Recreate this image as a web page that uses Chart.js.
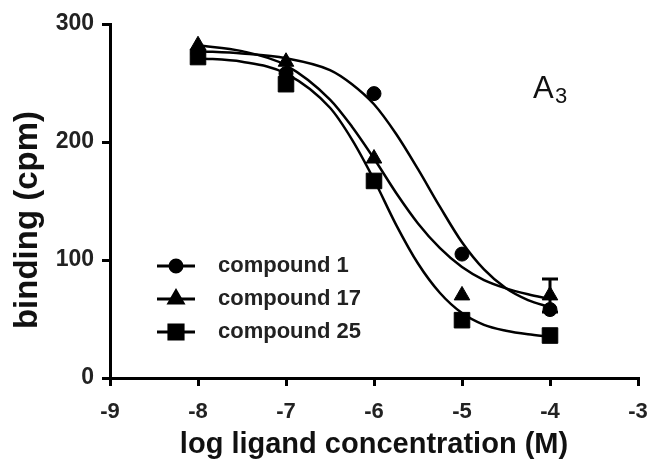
<!DOCTYPE html>
<html>
<head>
<meta charset="utf-8">
<script src="https://cdn.jsdelivr.net/npm/chart.js@4"></script>
<style>
  html, body { margin: 0; padding: 0; background: #fff; }
  #wrap { width: 653px; height: 464px; }
</style>
</head>
<body>
<div id="wrap"><canvas id="bindingChart" width="653" height="464"></canvas></div>
<script>
// measured points (log M vs cpm)
const logConc = [-8, -7, -6, -5, -4];
const compound1 = [275, 258, 241, 105, 58];
const compound17 = [282, 268, 186, 70, 70];
const compound17Err = [0, 0, 0, 0, 14];
const compound25 = [272, 249, 167, 49, 36];

// fitted curves
const fitX = [-8, -7.5, -7, -6.5, -6.25, -6, -5.75, -5.5, -5.25, -5, -4.75, -4.5, -4.25, -4];
const fit1 = [277, 275, 271, 261, 249, 232, 207, 177, 145, 115, 92, 76, 66, 60];
const fit17 = [282, 277, 265, 236, 213, 186, 157, 131, 110, 94, 83, 76, 71, 67];
const fit25 = [271, 268, 258, 229, 202, 168, 130, 97, 72, 55, 45, 40, 37, 35];

const seriesNames = ['compound 1', 'compound 17', 'compound 25'];
const seriesMarkers = ['circle', 'triangle', 'rect'];
const markerRadius = [7, 9, 11];

const xTicks = [-9, -8, -7, -6, -5, -4, -3];
const yTicks = [0, 100, 200, 300];

const FONT = '"Liberation Sans", Arial, sans-serif';

function toPoints(xs, ys) {
    return xs.map((x, i) => ({ x: x, y: ys[i] }));
}

function curve(ys) {
    return {
        data: toPoints(fitX, ys),
        showLine: true,
        borderColor: '#000',
        borderWidth: 2.5,
        pointRadius: 0,
        cubicInterpolationMode: 'monotone',
        fill: false,
        clip: false,
        order: 10
    };
}

function points(ys, idx) {
    return {
        data: toPoints(logConc, ys),
        showLine: false,
        pointStyle: seriesMarkers[idx],
        pointRadius: markerRadius[idx],
        pointHoverRadius: markerRadius[idx],
        backgroundColor: '#000',
        borderColor: '#000',
        borderWidth: 1,
        clip: false,
        order: 3 - idx
    };
}

const errorBarPlugin = {
    id: 'errorBars',
    beforeDatasetsDraw(chart) {
        const ctx = chart.ctx;
        const xs = chart.scales.x;
        const ys = chart.scales.y;
        ctx.save();
        ctx.strokeStyle = '#000';
        ctx.lineWidth = 3;
        compound17Err.forEach((e, i) => {
            if (!e) return;
            const px = xs.getPixelForValue(logConc[i]);
            const top = ys.getPixelForValue(compound17[i] + e);
            const bot = ys.getPixelForValue(compound17[i] - e);
            ctx.beginPath();
            ctx.moveTo(px, top);
            ctx.lineTo(px, bot);
            ctx.moveTo(px - 8, top);
            ctx.lineTo(px + 8, top);
            ctx.moveTo(px - 8, bot);
            ctx.lineTo(px + 8, bot);
            ctx.stroke();
        });
        ctx.restore();
    }
};

const annotationPlugin = {
    id: 'legendAndLabel',
    afterDraw(chart) {
        const ctx = chart.ctx;
        const area = chart.chartArea;
        ctx.save();

        // y axis title, sits a little below the axis middle in the original
        ctx.save();
        ctx.translate(28, (area.top + area.bottom) / 2 + 19);
        ctx.rotate(-Math.PI / 2);
        ctx.fillStyle = '#111';
        ctx.font = 'bold 33px ' + FONT;
        ctx.textAlign = 'center';
        ctx.textBaseline = 'middle';
        ctx.fillText('binding (cpm)', 0, 0);
        ctx.restore();

        // legend
        const lx = area.left + 47;
        const ly = area.top + 242;
        const rowGap = 33;
        seriesNames.forEach((name, i) => {
            const y = ly + i * rowGap;
            ctx.strokeStyle = '#000';
            ctx.lineWidth = 3;
            ctx.beginPath();
            ctx.moveTo(lx, y);
            ctx.lineTo(lx + 38, y);
            ctx.stroke();
            Chart.helpers.drawPoint(ctx, {
                pointStyle: seriesMarkers[i],
                radius: markerRadius[i] - 1,
                borderWidth: 1
            }, lx + 19, y);
            ctx.fillStyle = '#000';
            ctx.fill();
            ctx.fillStyle = '#222';
            ctx.font = 'bold 22px ' + FONT;
            ctx.textAlign = 'left';
            ctx.textBaseline = 'middle';
            ctx.fillText(name, lx + 61, y);
        });

        // receptor label
        ctx.fillStyle = '#111';
        ctx.textAlign = 'left';
        ctx.textBaseline = 'alphabetic';
        ctx.font = '500 31px ' + FONT;
        ctx.fillText('A', area.right - 105, area.top + 74);
        ctx.font = '22px ' + FONT;
        ctx.fillText('3', area.right - 83, area.top + 79);
        ctx.restore();
    }
};

const chart = new Chart(document.getElementById('bindingChart').getContext('2d'), {
    type: 'scatter',
    data: {
        datasets: [
            curve(fit1),
            curve(fit17),
            curve(fit25),
            points(compound1, 0),
            points(compound17, 1),
            points(compound25, 2)
        ]
    },
    options: {
        responsive: false,
        animation: false,
        layout: { padding: { top: 24, right: 15, bottom: 0, left: 0 } },
        plugins: {
            legend: { display: false },
            tooltip: { enabled: false }
        },
        scales: {
            x: {
                type: 'linear',
                min: -9,
                max: -3,
                afterFit: function(scale) {
                    scale.height = 86;
                    scale.paddingLeft = 0;
                    scale.paddingRight = 0;
                },
                afterBuildTicks: function(scale) {
                    scale.ticks = xTicks.map(v => ({ value: v }));
                },
                border: { display: true, color: '#000', width: 3 },
                grid: {
                    display: true,
                    drawOnChartArea: false,
                    drawTicks: true,
                    tickLength: 8,
                    color: '#000',
                    lineWidth: 3
                },
                ticks: {
                    color: '#222',
                    padding: 13,
                    font: { family: FONT, size: 22, weight: 'bold' }
                },
                title: {
                    display: true,
                    text: 'log ligand concentration (M)',
                    color: '#111',
                    padding: { top: 0, bottom: 2 },
                    font: { family: FONT, size: 29, weight: 'bold' }
                }
            },
            y: {
                type: 'linear',
                min: 0,
                max: 300,
                afterFit: function(scale) {
                    scale.width = 110;
                    scale.paddingTop = 0;
                    scale.paddingBottom = 0;
                },
                afterBuildTicks: function(scale) {
                    scale.ticks = yTicks.map(v => ({ value: v }));
                },
                border: { display: true, color: '#000', width: 3 },
                grid: {
                    display: true,
                    drawOnChartArea: false,
                    drawTicks: true,
                    tickLength: 8,
                    color: '#000',
                    lineWidth: 3
                },
                ticks: {
                    color: '#222',
                    padding: 8,
                    font: { family: FONT, size: 23, weight: 'bold' }
                },
                title: { display: false }
            }
        }
    },
    plugins: [errorBarPlugin, annotationPlugin]
});
</script>
</body>
</html>
